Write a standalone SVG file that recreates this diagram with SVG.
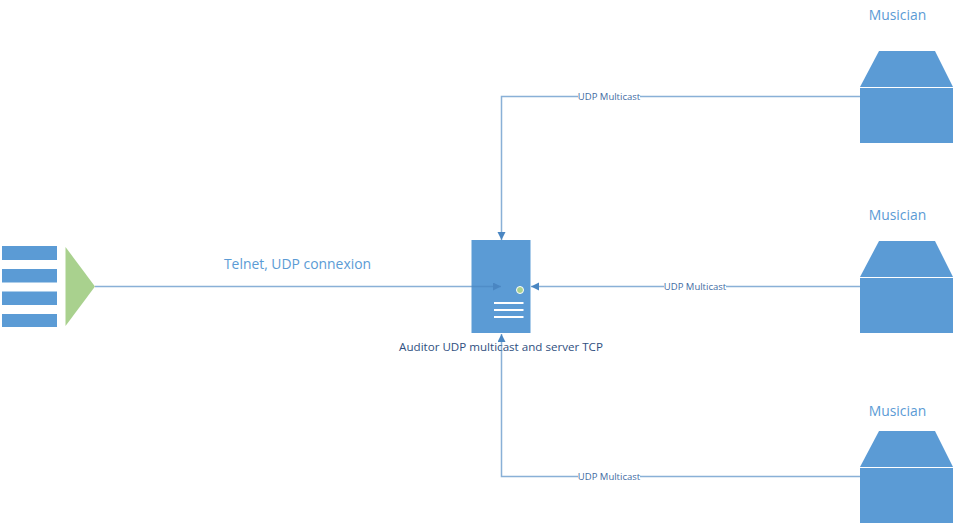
<svg xmlns="http://www.w3.org/2000/svg" width="955" height="524" viewBox="0 0 955 524">
<style>
text{font-family:"Open Sans","Noto Sans","DejaVu Sans",sans-serif}
.b{fill:#5b9bd5}
.w{fill:#fff}
.g{fill:#a9d18e}
.c{fill:none;stroke:#4a86c2;stroke-width:1.500;stroke-opacity:.65}
.t{font-size:13.900px;fill:#5b9bd5}
.l{font-size:9.500px;fill:#3f6ba3;text-anchor:middle}
.bg{fill:#fff}
</style>
<defs>
<marker id="a" markerUnits="userSpaceOnUse" markerWidth="9" markerHeight="9" refX="8" refY="4" orient="auto"><path d="M0 0L8 4L0 8Z" fill="#4a86c2"/></marker>
</defs>
<rect width="955" height="524" fill="#fff"/>
<g id="client">
<rect class="b" x="2" y="246" width="55" height="14"/>
<rect class="b" x="2" y="269" width="55" height="13.500"/>
<rect class="b" x="2" y="291.500" width="55" height="13.500"/>
<rect class="b" x="2" y="314" width="55" height="13"/>
<path class="g" d="M65.500 247L95 286.500L65.500 326Z"/>
<text class="t" x="297.500" y="269" text-anchor="middle">Telnet, UDP connexion</text>
</g>
<g id="server">
<rect class="b" x="471.500" y="240" width="59" height="93"/>
<circle class="g" cx="520" cy="290" r="3.500" stroke="#fff" stroke-width="1"/>
<rect class="w" x="494" y="302" width="29.500" height="2"/>
<rect class="w" x="494" y="309" width="29.500" height="2"/>
<rect class="w" x="494" y="316" width="29.500" height="2"/>
<text x="501" y="351" font-size="11.600" fill="#2f4f80" text-anchor="middle">Auditor UDP multicast and server TCP</text>
</g>
<g id="musician1">
<path class="b" d="M879 51H935L953 87H860Z"/>
<rect class="b" x="860" y="88" width="93" height="55"/>
<text class="t" x="897.500" y="20" text-anchor="middle">Musician</text>
</g>
<g id="musician2">
<path class="b" d="M879 241H935L953 277H860Z"/>
<rect class="b" x="860" y="278" width="93" height="55"/>
<text class="t" x="897.500" y="220" text-anchor="middle">Musician</text>
</g>
<g id="musician3">
<path class="b" d="M879 431H935L953 467H860Z"/>
<rect class="b" x="860" y="468" width="93" height="55"/>
<text class="t" x="897.500" y="416" text-anchor="middle">Musician</text>
</g>
<g id="connectors">
<path class="c" d="M860 96.500H501.500V240" marker-end="url(#a)"/>
<path class="c" d="M860 286.500H531" marker-end="url(#a)"/>
<path class="c" d="M860 476.500H501.500V334" marker-end="url(#a)"/>
<path class="c" d="M95 286.500H501" marker-end="url(#a)"/>
</g>
<g id="labels">
<rect class="bg" x="578" y="91" width="62" height="11"/>
<text class="l" x="609" y="100">UDP Multicast</text>
<rect class="bg" x="664" y="281" width="62" height="11"/>
<text class="l" x="695" y="290">UDP Multicast</text>
<rect class="bg" x="578" y="471" width="62" height="11"/>
<text class="l" x="609" y="480">UDP Multicast</text>
</g>
</svg>
